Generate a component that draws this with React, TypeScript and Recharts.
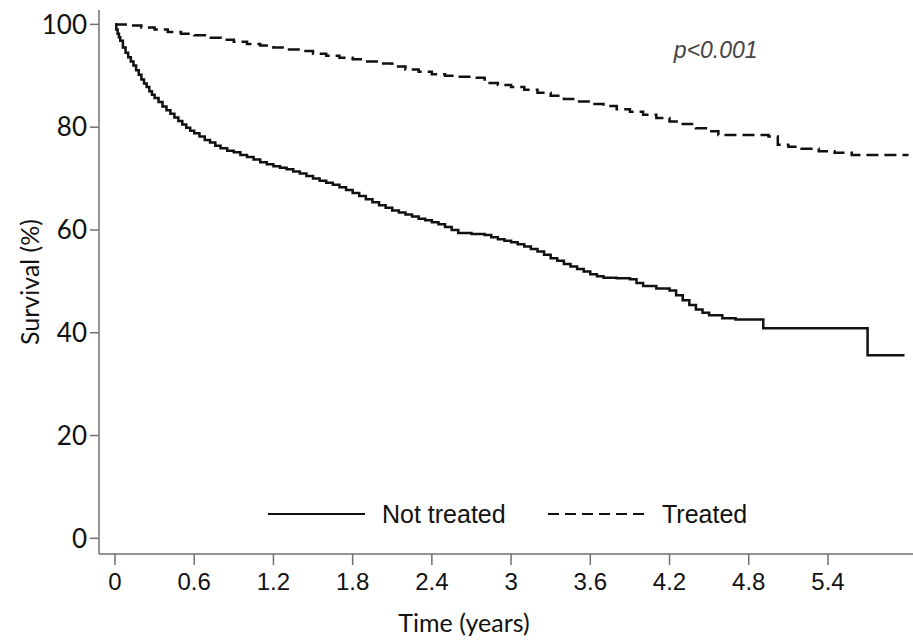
import { LineChart, Line, XAxis, YAxis, ReferenceDot } from "recharts";

// Kaplan-Meier style survival (time in years, survival %)
const notTreatedTime = [
  0, 0.01, 0.02, 0.03, 0.04, 0.06, 0.08, 0.1, 0.12, 0.14, 0.16, 0.18, 0.2, 0.22, 0.24, 0.26, 0.28,
  0.3, 0.33, 0.36, 0.39, 0.42, 0.45, 0.48, 0.51, 0.54, 0.57, 0.6, 0.64, 0.68, 0.72, 0.76,
  0.8, 0.85, 0.9, 0.95, 1.0, 1.05, 1.1, 1.15, 1.2, 1.25, 1.3, 1.35, 1.4, 1.45, 1.5, 1.55,
  1.6, 1.65, 1.7, 1.75, 1.8, 1.85, 1.9, 1.95, 2.0, 2.05, 2.1, 2.15, 2.2, 2.25, 2.3, 2.35, 2.4,
  2.45, 2.5, 2.55, 2.6, 2.7, 2.8, 2.85, 2.9, 2.95, 3.0, 3.05, 3.1, 3.15, 3.2, 3.25, 3.3,
  3.35, 3.4, 3.45, 3.5, 3.55, 3.6, 3.65, 3.7, 3.8, 3.9, 3.95, 4.0, 4.1, 4.2, 4.25, 4.3,
  4.35, 4.4, 4.45, 4.5, 4.6, 4.7, 4.91, 5.7, 5.98,
];
const notTreatedSurvival = [
  100, 99.0, 98.2, 97.5, 96.8, 95.5, 94.5, 93.6, 92.8, 92.0, 91.1, 90.2, 89.3, 88.5, 87.8, 87.0, 86.3,
  85.7, 84.9, 84.0, 83.3, 82.6, 81.9, 81.2, 80.5, 79.9, 79.3, 78.8, 78.2, 77.5, 77.0, 76.4,
  75.9, 75.4, 75.1, 74.6, 74.2, 73.7, 73.2, 72.8, 72.4, 72.1, 71.8, 71.4, 71.0, 70.5, 70.0, 69.6,
  69.2, 68.8, 68.3, 67.8, 67.2, 66.6, 66.0, 65.4, 64.8, 64.3, 63.8, 63.4, 63.0, 62.6, 62.2, 61.9, 61.5,
  61.1, 60.6, 60.0, 59.4, 59.2, 59.0, 58.6, 58.2, 57.9, 57.6, 57.2, 56.8, 56.3, 55.8, 55.2, 54.5,
  54.0, 53.4, 52.9, 52.4, 51.9, 51.4, 51.0, 50.7, 50.6, 50.4, 49.7, 49.1, 48.6, 48.2, 47.3, 46.3,
  45.4, 44.5, 43.9, 43.4, 42.8, 42.6, 40.9, 35.6, 35.6,
];

const treatedTime = [
  0, 0.1, 0.2, 0.3, 0.4, 0.5, 0.6, 0.7, 0.8, 0.9, 1.0, 1.1, 1.2, 1.3, 1.4, 1.5,
  1.6, 1.7, 1.8, 1.9, 2.0, 2.1, 2.2, 2.3, 2.4, 2.5, 2.6, 2.7, 2.8, 2.9, 3.0,
  3.1, 3.2, 3.3, 3.4, 3.5, 3.6, 3.7, 3.8, 3.9, 4.0, 4.1, 4.2, 4.3, 4.4, 4.5,
  4.57, 4.95, 5.02, 5.1, 5.2, 5.33, 5.45, 5.58, 6.01,
];
const treatedSurvival = [
  100, 99.8, 99.4, 99, 98.5, 98.2, 97.9, 97.4, 97.0, 96.6, 96.2, 95.9, 95.5, 95.1, 94.8, 94.3,
  93.9, 93.5, 93.2, 92.8, 92.4, 91.8, 91.2, 90.8, 90.3, 90.0, 89.8, 89.6, 88.6, 88.2, 87.8,
  87.3, 86.7, 86.1, 85.5, 85.0, 84.5, 84.1, 83.5, 83.0, 82.4, 81.8, 81.1, 80.6, 79.8, 79.2,
  78.5, 78.2, 76.6, 76.2, 75.8, 75.3, 75.0, 74.6, 74.6,
];

const xTicks = [0, 0.6, 1.2, 1.8, 2.4, 3, 3.6, 4.2, 4.8, 5.4];
const yTicks = [0, 20, 40, 60, 80, 100];

const notTreated = notTreatedTime.map((t, i) => ({ t, s: notTreatedSurvival[i] }));
const treated = treatedTime.map((t, i) => ({ t, s: treatedSurvival[i] }));

const axisColor = "#707070";
const sansTitle = "Lato, 'Open Sans', sans-serif";
const sansArial = "'Liberation Sans', Arial, sans-serif";

// legend drawn over the plot, like the original figure
function KmLegend() {
  return (
    <svg
      width={500}
      height={32}
      style={{ position: "absolute", left: 268, top: 499, display: "block" }}
    >
      <line x1={0} x2={97} y1={15} y2={15} stroke="#111" strokeWidth={2} />
      <text x={114} y={24} fontFamily={sansArial} fontSize={25} fill="#111">
        Not treated
      </text>
      <line x1={280} x2={377} y1={15} y2={15} stroke="#111" strokeWidth={2} strokeDasharray="11 6" />
      <text x={394} y={24} fontFamily={sansArial} fontSize={25} fill="#111">
        Treated
      </text>
    </svg>
  );
}

export default function App() {
  return (
    <div style={{ position: "absolute", left: 0, top: 0, width: 913, height: 640, background: "#fff" }}>
      <LineChart width={913} height={640} margin={{ top: 10, right: 0, left: 0, bottom: 0 }}>
        <XAxis
          type="number"
          dataKey="t"
          domain={[-0.121, 6.044]}
          allowDataOverflow
          ticks={xTicks}
          interval={0}
          height={86}
          tickSize={11}
          tickMargin={8}
          stroke={axisColor}
          strokeWidth={1.5}
          tick={{ fontFamily: sansArial, fontSize: 24, fill: "#111" }}
          label={{
            value: "Time (years)",
            position: "insideBottom",
            offset: 8,
            dx: -42,
            style: { fontFamily: sansTitle, fontSize: 25, fill: "#111" },
          }}
        />
        <YAxis
          type="number"
          domain={[-3.05, 102.8]}
          allowDataOverflow
          ticks={yTicks}
          interval={0}
          width={99}
          tickSize={9}
          tickMargin={3}
          stroke={axisColor}
          strokeWidth={1.5}
          tick={{ fontFamily: sansTitle, fontSize: 26, fill: "#111" }}
          label={{
            value: "Survival (%)",
            angle: -90,
            position: "insideLeft",
            offset: 30,
            style: { textAnchor: "middle", fontFamily: sansTitle, fontSize: 25, fill: "#111" },
          }}
        />
        <ReferenceDot
          x={4.55}
          y={95}
          r={0}
          label={{
            value: "p<0.001",
            position: "center",
            style: { fontFamily: sansArial, fontSize: 23, fontStyle: "italic", fill: "#444" },
          }}
        />
        <Line
          data={notTreated}
          dataKey="s"
          name="Not treated"
          type="stepAfter"
          stroke="#111"
          strokeWidth={2.5}
          dot={false}
          activeDot={false}
          isAnimationActive={false}
        />
        <Line
          data={treated}
          dataKey="s"
          name="Treated"
          type="stepAfter"
          stroke="#111"
          strokeWidth={2.5}
          strokeDasharray="12 6"
          dot={false}
          activeDot={false}
          isAnimationActive={false}
        />
      </LineChart>
      <KmLegend />
    </div>
  );
}
